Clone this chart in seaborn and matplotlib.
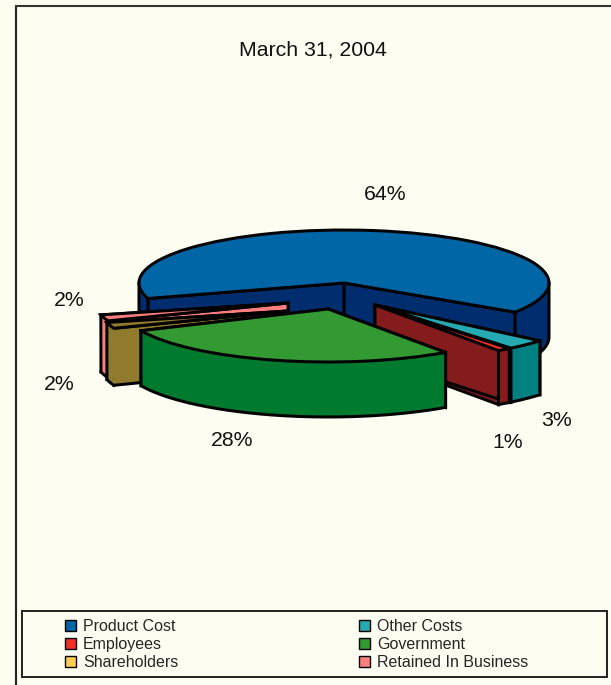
import numpy as np
import seaborn as sns
import matplotlib
matplotlib.use("Agg")
import matplotlib.pyplot as plt
from matplotlib.patches import Patch, Polygon, Rectangle

categories = ["Product Cost", "Other Costs", "Employees", "Government", "Shareholders", "Retained In Business"]
values = [64, 3, 1, 28, 2, 2]
top_colors = ["#0066A6", "#26A9B0", "#EE3124", "#339933", "#8F7B2B", "#FF7F7F"]
wall_colors = ["#002D6E", "#008080", "#841C1E", "#007A2F", "#8F7B2B", "#FF7F7F"]
legend_colors = ["#0066A6", "#26A9B0", "#EE3124", "#339933", "#FFCC55", "#FF7F7F"]
legend_order = [0, 2, 4, 1, 3, 5]

W, H = 611, 685
BG = "#FDFDF1"
RX, RY = 205.0, 53.0
OX, OY = 344.0, 283.0
LW = 2.15

# slice index: apex px, start angle (runs clockwise), radius, wall depth px, seams drawn
placement = {
    0: ((344, 283), 197.0, 1.00, 54, True),
    5: ((288, 303), 201.0, 0.94, 57, False),
    4: ((288, 311), 201.0, 0.91, 57, False),
    1: ((375, 305), 320.0, 1.05, 54, True),
    2: ((375, 305), 308.6, 1.05, 54, True),
    3: ((328, 309), 305.0, 1.00, 55, True),
}
draw_order = [0, 5, 4, 1, 2, 3]
label_pos = {0: (385, 194), 1: (557, 421), 2: (508, 443), 3: (232, 441), 4: (59, 384), 5: (69, 300)}

sns.set_theme(style="white")
plt.rcParams["font.family"] = ["Liberation Sans", "DejaVu Sans"]

fig = plt.figure(figsize=(W / 100, H / 100), dpi=100, facecolor=BG)
ax = fig.add_axes([0, 0, 1, 1])


def to_data(px, py):
    return (px - OX) / RX, (OY - py) / RY


z = [1]


def next_z():
    z[0] += 1
    return z[0]


def wall(fill_pts, stroke_pts, color):
    zo = next_z()
    ax.add_patch(Polygon(fill_pts, closed=True, fc=color, ec="none", lw=0, zorder=zo))
    xs, ys = zip(*stroke_pts)
    ax.plot(xs, ys, color="black", lw=LW, solid_joinstyle="miter", solid_capstyle="projecting", zorder=zo + 0.5)


for i in draw_order:
    (apx, apy), start, radius, depth, seams = placement[i]
    cx, cy = to_data(apx, apy)
    dy = depth / RY
    wedges, _ = ax.pie(
        [values[i], 100 - values[i]], startangle=start, counterclock=False,
        center=(cx, cy), radius=radius, colors=[top_colors[i], "none"],
        wedgeprops=dict(linewidth=0),
    )
    wedge = wedges[0]
    wedges[1].remove()
    t1, t2 = wedge.theta1, wedge.theta2
    for t in (t1, t2):
        ex, ey = cx + radius * np.cos(np.radians(t)), cy + radius * np.sin(np.radians(t))
        fill = [(cx, cy), (ex, ey), (ex, ey - dy), (cx, cy - dy)]
        stroke = [(ex, ey), (cx, cy), (cx, cy - dy), (ex, ey - dy)]
        if seams:
            stroke.append((ex, ey))
        wall(fill, stroke, wall_colors[i])
    # outer wall: only the part of the arc on the front half of the ellipse
    angs = np.linspace(t1, t2, 480)
    angs = angs[np.sin(np.radians(angs)) <= 0]
    if angs.size:
        breaks = np.where(np.diff(angs) > 2)[0] + 1
        for seg in np.split(angs, breaks):
            xs = cx + radius * np.cos(np.radians(seg))
            ys = cy + radius * np.sin(np.radians(seg))
            fill = list(zip(xs, ys)) + list(zip(xs[::-1], ys[::-1] - dy))
            if seams:
                stroke = [(xs[0], ys[0])] + list(zip(xs, ys - dy)) + [(xs[-1], ys[-1])]
            else:
                stroke = [(xs[0], ys[0])] + list(zip(xs, ys - dy))
            wall(fill, stroke, wall_colors[i])
    wedge.set(edgecolor="black", linewidth=LW, joinstyle="miter", zorder=next_z() + 1)
    z[0] += 2

ax.set_aspect("auto")
ax.set_xlim(to_data(0, 0)[0], to_data(W, 0)[0])
ax.set_ylim(to_data(0, H)[1], to_data(0, 0)[1])
ax.axis("off")

fig.text(312.5 / W, 1 - 50 / H, "March 31, 2004", ha="center", va="center", fontsize=15.3, color="#111111")
for i, (px, py) in label_pos.items():
    fig.text(px / W, 1 - py / H, f"{values[i]}%", ha="center", va="center", fontsize=15.3, color="#111111")

# outer frame and legend box
fig.add_artist(plt.Line2D([15.5 / W, 15.5 / W], [0, 1 - 5.5 / H], color="#222222", lw=1.5))
fig.add_artist(plt.Line2D([15.5 / W, 1], [1 - 5.5 / H, 1 - 5.5 / H], color="#333333", lw=1.5))
fig.add_artist(Rectangle((22 / W, 1 - 677 / H), 585 / W, 66 / H, transform=fig.transFigure,
                         fc=BG, ec="#222222", lw=1.4, zorder=5))
handles = [Patch(fc=legend_colors[k], ec="black", lw=1.0, label=categories[k]) for k in legend_order]
fig.legend(handles=handles, ncol=2, frameon=False, loc="upper left", bbox_to_anchor=(65 / W, 1 - 619 / H),
           fontsize=11.55, handlelength=0.68, handleheight=0.68, handletextpad=0.44,
           columnspacing=11.3, labelspacing=0.18, borderpad=0, borderaxespad=0)

fig.savefig("out.png", dpi=100, facecolor=BG)
